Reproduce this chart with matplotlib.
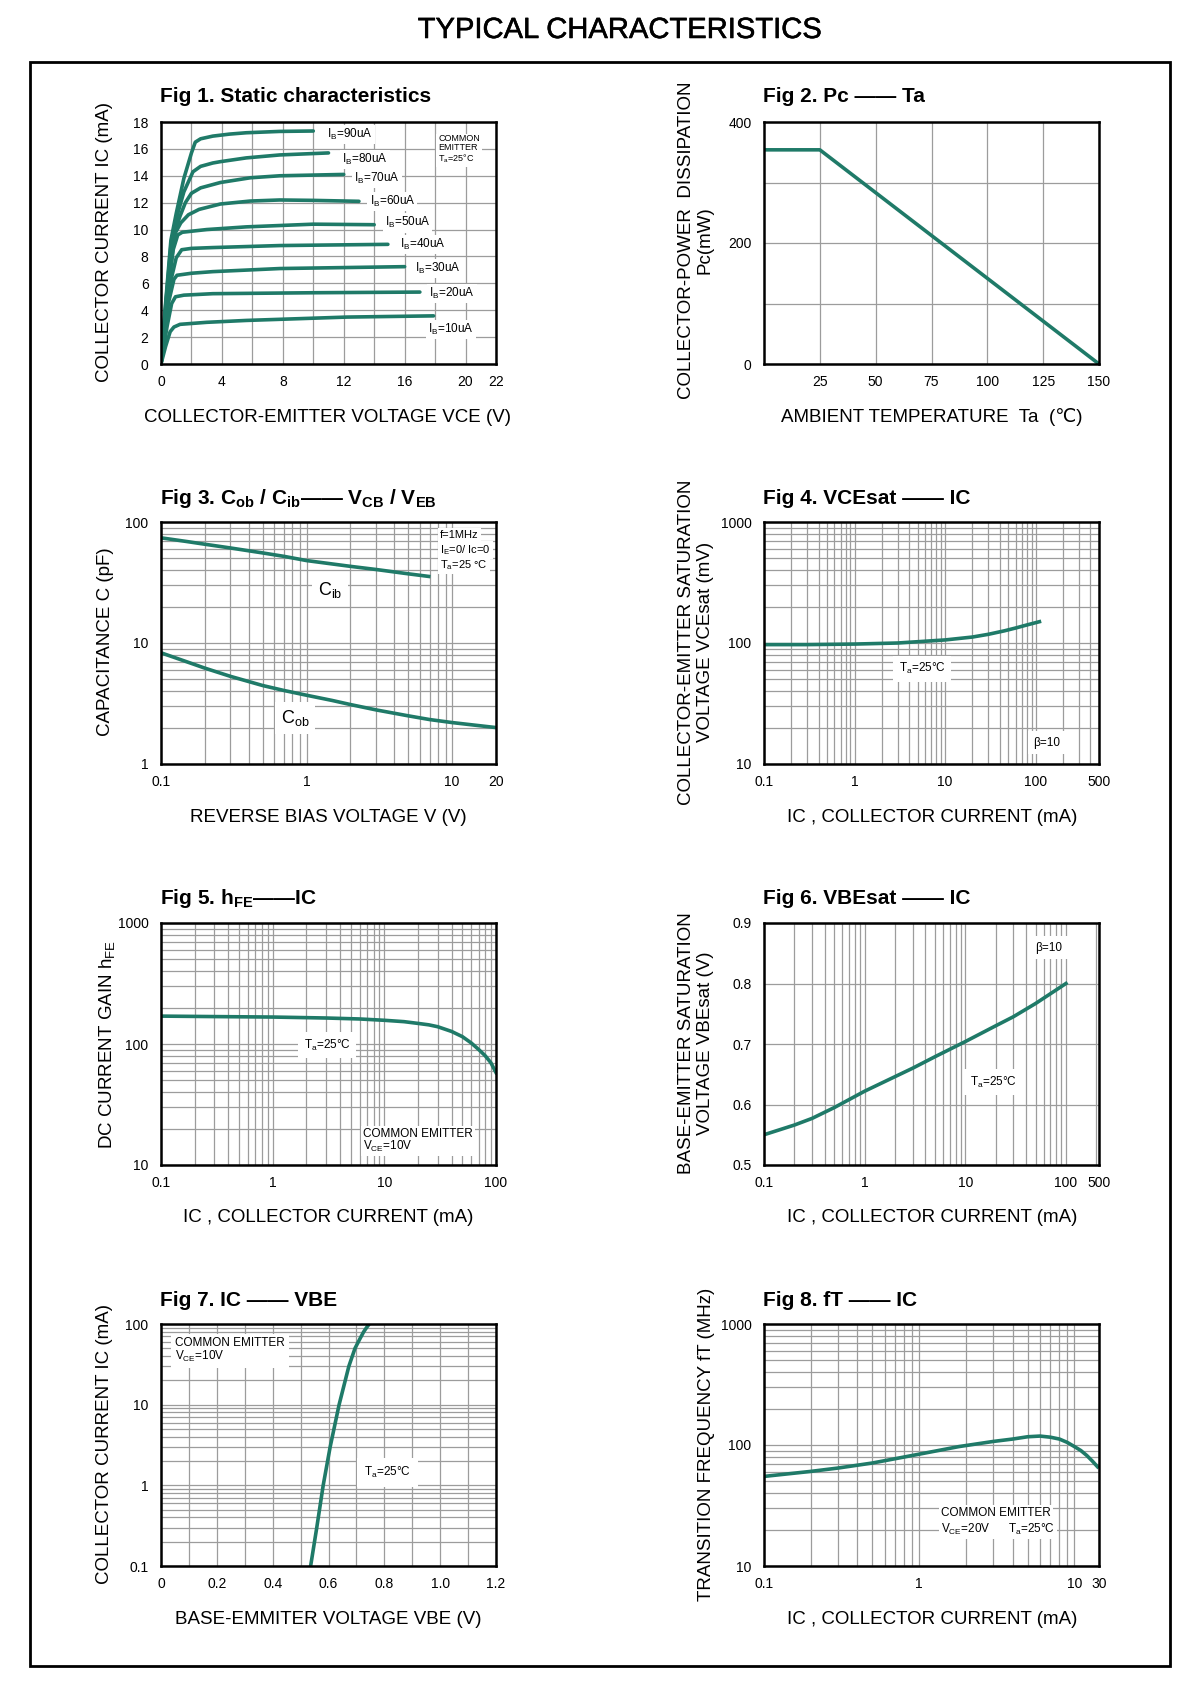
import numpy as np
import matplotlib
matplotlib.use('Agg')
import matplotlib.pyplot as plt
import matplotlib.patheffects as pe
from matplotlib.ticker import LogLocator, NullFormatter, FixedLocator
from matplotlib.patches import Rectangle

plt.rcParams['font.family'] = ['Liberation Sans', 'DejaVu Sans']
plt.rcParams['mathtext.fontset'] = 'custom'
plt.rcParams['mathtext.rm'] = 'Liberation Sans'
plt.rcParams['mathtext.it'] = 'Liberation Sans:italic'
plt.rcParams['mathtext.bf'] = 'Liberation Sans:bold'

CURVE = '#1f7a68'
GRID = '#9c9c9c'
W, H = 1200, 1688

# ---- Fig 1: static characteristics (IB = 10..90 uA)
ib_names = ['90', '80', '70', '60', '50', '40', '30', '20', '10']
vce_curves = [
    [0, 0.3, 0.65, 1.0, 1.5, 2.0, 2.25, 2.6, 3.4, 4.5, 5.6, 7.8, 10.0],
    [0, 0.3, 0.65, 1.0, 1.5, 2.1, 2.6, 3.4, 3.9, 5.6, 7.8, 11.0],
    [0, 0.4, 0.8, 1.25, 1.6, 2.0, 2.6, 3.9, 5.86, 7.8, 12.0],
    [0, 0.4, 0.92, 1.3, 1.8, 2.5, 3.9, 5.86, 7.8, 10.0, 13.0],
    [0, 0.4, 0.8, 1.1, 1.4, 3.0, 5.6, 10.0, 14.0],
    [0, 0.5, 1.0, 1.36, 2.0, 3.4, 7.8, 14.9],
    [0, 0.5, 0.85, 1.05, 2.0, 3.4, 7.8, 16.0],
    [0, 0.4, 0.7, 0.95, 1.5, 3.4, 10.0, 17.0],
    [0, 0.3, 0.6, 0.85, 1.25, 3.0, 5.6, 12.2, 17.9],
]
ic_curves = [
    [0, 4.5, 9.2, 11.2, 13.8, 15.7, 16.5, 16.75, 16.95, 17.1, 17.2, 17.3, 17.33],
    [0, 4.3, 8.8, 10.8, 12.8, 14.3, 14.7, 14.95, 15.05, 15.33, 15.55, 15.7],
    [0, 5.4, 9.5, 11.0, 12.0, 12.7, 13.1, 13.5, 13.85, 14.0, 14.1],
    [0, 5.2, 9.7, 10.5, 11.1, 11.5, 11.9, 12.12, 12.2, 12.17, 12.1],
    [0, 5.0, 8.5, 9.6, 9.8, 10.0, 10.2, 10.4, 10.36],
    [0, 5.5, 7.9, 8.5, 8.6, 8.66, 8.81, 8.9],
    [0, 4.6, 6.3, 6.6, 6.75, 6.87, 7.1, 7.24],
    [0, 2.8, 4.5, 5.0, 5.12, 5.23, 5.3, 5.35],
    [0, 1.3, 2.4, 2.75, 2.95, 3.1, 3.24, 3.49, 3.58],
]
ib_label_pos = [(10.9, 17.05), (11.9, 15.2), (12.7, 13.8), (13.7, 12.1), (14.7, 10.5),
                (15.7, 8.9), (16.7, 7.1), (17.6, 5.25), (17.55, 2.56)]

# ---- Fig 2: power derating
ta = [0, 25, 150]
pc = [354, 354, 0]

# ---- Fig 3: capacitances
v_cib = [0.1, 0.15, 0.2, 0.3, 0.5, 0.7, 1, 1.5, 2, 3, 5, 6.9]
c_ib = [74, 69, 65.5, 61, 55.5, 52, 48, 45, 43, 40.5, 37.3, 35.5]
v_cob = [0.1, 0.15, 0.2, 0.3, 0.5, 0.7, 1, 1.5, 2, 3, 5, 7, 10, 14, 20]
c_ob = [8.3, 7.0, 6.2, 5.3, 4.45, 4.05, 3.7, 3.35, 3.1, 2.8, 2.5, 2.33, 2.2, 2.1, 2.0]

# ---- Fig 4: VCEsat vs IC
ic4 = [0.1, 0.3, 1, 3, 10, 20, 30, 45, 60, 80, 110]
vcesat = [97, 97, 98, 100, 106, 112, 118, 126, 133, 141, 150]

# ---- Fig 5: hFE vs IC
ic5 = [0.1, 0.3, 1, 3, 6, 10, 15, 20, 25, 30, 40, 50, 60, 70, 80, 90, 100]
hfe = [170, 168.5, 167, 164, 161, 157, 153, 148, 144, 139, 127, 115, 102, 90, 80, 70, 58]

# ---- Fig 6: VBEsat vs IC
ic6 = [0.1, 0.2, 0.3, 0.5, 1, 2, 3, 5, 10, 20, 30, 50, 100]
vbesat = [0.550, 0.566, 0.577, 0.595, 0.622, 0.646, 0.660, 0.679, 0.704, 0.730, 0.745, 0.767, 0.800]

# ---- Fig 7: IC vs VBE
vbe7 = [0.536, 0.558, 0.581, 0.606, 0.638, 0.673, 0.695, 0.712, 0.726, 0.738, 0.746]
ic7 = [0.1, 0.3, 1, 3, 10, 30, 50, 65, 80, 92, 100]

# ---- Fig 8: fT vs IC
ic8 = [0.1, 0.2, 0.3, 0.5, 1, 1.8, 3, 4, 5, 6, 7, 8, 9, 10, 11, 12, 13, 14.1]
ft = [55, 60.5, 64.5, 71, 84, 97, 107, 112, 117, 118.5, 116, 112, 105, 97, 90, 82, 74, 66]


fig = plt.figure(figsize=(W / 100, H / 100), dpi=100)


def add_ax(x0, top, w=335, h=242):
    return fig.add_axes([x0 / W, 1 - (top + h) / H, w / W, h / H])


def ftext(x, y, s, **kw):
    return fig.text(x / W, 1 - y / H, s, **kw)


def style(ax, logx=False, logy=False):
    for s in ax.spines.values():
        s.set_linewidth(1.8)
        s.set_color('black')
    if logx:
        ax.set_xscale('log')
        ax.xaxis.set_minor_locator(LogLocator(base=10, subs=np.arange(2, 10)))
        ax.xaxis.set_minor_formatter(NullFormatter())
    if logy:
        ax.set_yscale('log')
        ax.yaxis.set_minor_locator(LogLocator(base=10, subs=np.arange(2, 10)))
        ax.yaxis.set_minor_formatter(NullFormatter())
    ax.tick_params(which='both', length=0, labelsize=10)
    ax.tick_params(axis='x', pad=8)
    ax.tick_params(axis='y', pad=9)
    ax.grid(True, which='both', color=GRID, lw=0.9)
    ax.set_axisbelow(True)


def box(pad=1.5):
    return dict(fc='white', ec='none', pad=pad)


LABEL_FS = 13.5
TITLE_FS = 15

ftext(619, 30, 'TYPICAL CHARACTERISTICS', ha='center', va='center', fontsize=21,
      path_effects=[pe.withStroke(linewidth=0.4, foreground='black')])
fig.patches.append(Rectangle((30 / W, 1 - 1666 / H), 1140 / W, 1604 / H,
                             transform=fig.transFigure, fill=False, lw=2, ec='black'))

LX, RX = 161, 764
TOPS = [122, 522, 923, 1324]

# Fig 1
ax = add_ax(LX, TOPS[0])
style(ax)
for v, i in zip(vce_curves, ic_curves):
    ax.plot(v, i, color=CURVE, lw=2.6, solid_capstyle='round')
for name, (px, py) in zip(ib_names, ib_label_pos):
    ax.text(px, py, r'I$_{\rm B}$=' + name + 'uA', fontsize=8.5, va='center', ha='left', bbox=box())
ax.text(0.827, 0.95, 'COMMON\nEMITTER\nT$_{\\rm a}$=25°C', transform=ax.transAxes,
        fontsize=6.5, va='top', ha='left', linespacing=1.0, bbox=box())
ax.set_xlim(0, 22)
ax.set_ylim(0, 18)
ax.set_xticks([0, 4, 8, 12, 16, 20, 22])
ax.xaxis.set_minor_locator(FixedLocator([2, 6, 10, 14, 18]))
ax.set_yticks(np.arange(0, 19, 2))
ftext(LX - 1, 97, 'Fig 1. Static characteristics', fontsize=TITLE_FS, fontweight='bold', va='center')
ftext(328, 417, 'COLLECTOR-EMITTER VOLTAGE VCE (V)', fontsize=LABEL_FS, ha='center', va='center')
ftext(105, 242, 'COLLECTOR CURRENT IC (mA)', fontsize=LABEL_FS, ha='center', va='center', rotation=90)

# Fig 2
ax = add_ax(RX, TOPS[0])
style(ax)
ax.plot(ta, pc, color=CURVE, lw=2.6)
ax.set_xlim(0, 150)
ax.set_ylim(0, 400)
ax.set_xticks([25, 50, 75, 100, 125, 150])
ax.set_yticks([0, 200, 400])
ax.yaxis.set_minor_locator(FixedLocator([100, 300]))
ftext(RX - 1, 97, 'Fig 2. Pc —— Ta', fontsize=TITLE_FS, fontweight='bold', va='center')
ftext(932, 417, 'AMBIENT TEMPERATURE  Ta  (℃)', fontsize=LABEL_FS, ha='center', va='center')
ftext(696, 240, 'COLLECTOR-POWER  DISSIPATION\nPc(mW)', fontsize=LABEL_FS, ha='center', va='center',
      rotation=90, multialignment='center', linespacing=1.15)

# Fig 3
ax = add_ax(LX, TOPS[1])
style(ax, logx=True, logy=True)
ax.plot(v_cib, c_ib, color=CURVE, lw=2.6)
ax.plot(v_cob, c_ob, color=CURVE, lw=2.6)
ax.set_xlim(0.1, 20)
ax.set_ylim(1, 100)
ax.set_xticks([0.1, 1, 10, 20])
ax.set_xticklabels(['0.1', '1', '10', '20'])
ax.set_yticks([1, 10, 100])
ax.set_yticklabels(['1', '10', '100'])
ax.text(0.504, 0.719, r'C$_{\rm ib}$', transform=ax.transAxes, fontsize=13, ha='center', va='center',
        bbox=box(4))
ax.text(0.40, 0.19, r'C$_{\rm ob}$', transform=ax.transAxes, fontsize=13, ha='center', va='center',
        bbox=box(4))
ax.text(0.833, 0.946, 'f=1MHz', transform=ax.transAxes, fontsize=8, va='center', bbox=box())
ax.text(0.833, 0.884, r'I$_{\rm E}$=0/ Ic=0', transform=ax.transAxes, fontsize=8, va='center', bbox=box())
ax.text(0.833, 0.822, 'T$_{\\rm a}$=25 °C', transform=ax.transAxes, fontsize=8, va='center', bbox=box())
ftext(LX - 1, 498, r'Fig 3. C$_{\mathbf{ob}}$ / C$_{\mathbf{ib}}$—— V$_{\mathbf{CB}}$ / V$_{\mathbf{EB}}$',
      fontsize=TITLE_FS, fontweight='bold', va='center')
ftext(328, 818, 'REVERSE BIAS VOLTAGE V (V)', fontsize=LABEL_FS, ha='center', va='center')
ftext(105, 642, 'CAPACITANCE C (pF)', fontsize=LABEL_FS, ha='center', va='center', rotation=90)

# Fig 4
ax = add_ax(RX, TOPS[1])
style(ax, logx=True, logy=True)
ax.plot(ic4, vcesat, color=CURVE, lw=2.6)
ax.set_xlim(0.1, 500)
ax.set_ylim(10, 1000)
ax.set_xticks([0.1, 1, 10, 100, 500])
ax.set_xticklabels(['0.1', '1', '10', '100', '500'])
ax.set_yticks([10, 100, 1000])
ax.set_yticklabels(['10', '100', '1000'])
ax.text(0.472, 0.393, 'T$_{\\rm a}$=25°C', transform=ax.transAxes, fontsize=8.5, ha='center', va='center',
        bbox=box(4))
ax.text(0.845, 0.087, 'β=10', transform=ax.transAxes, fontsize=8.5, ha='center', va='center',
        bbox=box(4))
ftext(RX - 1, 498, 'Fig 4. VCEsat —— IC', fontsize=TITLE_FS, fontweight='bold', va='center')
ftext(932, 818, 'IC , COLLECTOR CURRENT (mA)', fontsize=LABEL_FS, ha='center', va='center')
ftext(696, 642, 'COLLECTOR-EMITTER SATURATION\nVOLTAGE VCEsat (mV)', fontsize=LABEL_FS, ha='center',
      va='center', rotation=90, multialignment='center', linespacing=1.15)

# Fig 5
ax = add_ax(LX, TOPS[2])
style(ax, logx=True, logy=True)
ax.plot(ic5, hfe, color=CURVE, lw=2.6)
ax.set_xlim(0.1, 100)
ax.set_ylim(10, 1000)
ax.set_xticks([0.1, 1, 10, 100])
ax.set_xticklabels(['0.1', '1', '10', '100'])
ax.set_yticks([10, 100, 1000])
ax.set_yticklabels(['10', '100', '1000'])
ax.text(0.496, 0.496, 'T$_{\\rm a}$=25°C', transform=ax.transAxes, fontsize=8.5, ha='center', va='center',
        bbox=box(4))
ax.text(0.603, 0.10, 'COMMON EMITTER\nV$_{\\rm CE}$=10V', transform=ax.transAxes, fontsize=8.5,
        ha='left', va='center', linespacing=0.95, bbox=box())
ftext(LX - 1, 898, r'Fig 5. h$_{\mathbf{FE}}$——IC', fontsize=TITLE_FS, fontweight='bold', va='center')
ftext(328, 1218, 'IC , COLLECTOR CURRENT (mA)', fontsize=LABEL_FS, ha='center', va='center')
ftext(107, 1044, r'DC CURRENT GAIN h$_{\rm FE}$', fontsize=LABEL_FS, ha='center', va='center', rotation=90)

# Fig 6
x6max = 213
ax = add_ax(RX, TOPS[2])
style(ax, logx=True)
ax.plot(ic6, vbesat, color=CURVE, lw=2.6)
ax.set_xlim(0.1, x6max)
ax.set_ylim(0.5, 0.9)
ax.set_xticks([0.1, 1, 10, 100, x6max])
ax.set_xticklabels(['0.1', '1', '10', '100', '500'])
ax.set_yticks([0.5, 0.6, 0.7, 0.8, 0.9])
ax.grid(False, which='minor', axis='y')
ax.text(0.851, 0.897, 'β=10', transform=ax.transAxes, fontsize=8.5, ha='center', va='center',
        bbox=box(4))
ax.text(0.684, 0.343, 'T$_{\\rm a}$=25°C', transform=ax.transAxes, fontsize=8.5, ha='center', va='center',
        bbox=box(4))
ftext(RX - 1, 898, 'Fig 6. VBEsat —— IC', fontsize=TITLE_FS, fontweight='bold', va='center')
ftext(932, 1218, 'IC , COLLECTOR CURRENT (mA)', fontsize=LABEL_FS, ha='center', va='center')
ftext(696, 1043, 'BASE-EMITTER SATURATION\nVOLTAGE VBEsat (V)', fontsize=LABEL_FS, ha='center',
      va='center', rotation=90, multialignment='center', linespacing=1.15)

# Fig 7
ax = add_ax(LX, TOPS[3])
style(ax, logy=True)
ax.plot(vbe7, ic7, color=CURVE, lw=2.6)
ax.set_xlim(0, 1.2)
ax.set_ylim(0.1, 100)
ax.set_xticks([0, 0.2, 0.4, 0.6, 0.8, 1.0, 1.2])
ax.set_xticklabels(['0', '0.2', '0.4', '0.6', '0.8', '1.0', '1.2'])
ax.xaxis.set_minor_locator(FixedLocator([0.1, 0.3, 0.5, 0.7, 0.9, 1.1]))
ax.set_yticks([0.1, 1, 10, 100])
ax.set_yticklabels(['0.1', '1', '10', '100'])
ax.text(0.042, 0.89, 'COMMON EMITTER\nV$_{\\rm CE}$=10V', transform=ax.transAxes, fontsize=8.5,
        ha='left', va='center', linespacing=0.95, bbox=box(3))
ax.text(0.675, 0.388, 'T$_{\\rm a}$=25°C', transform=ax.transAxes, fontsize=8.5, ha='center', va='center',
        bbox=box(5))
ftext(LX - 1, 1300, 'Fig 7. IC —— VBE', fontsize=TITLE_FS, fontweight='bold', va='center')
ftext(328, 1620, 'BASE-EMMITER VOLTAGE VBE (V)', fontsize=LABEL_FS, ha='center', va='center')
ftext(105, 1444, 'COLLECTOR CURRENT IC (mA)', fontsize=LABEL_FS, ha='center', va='center', rotation=90)

# Fig 8
x8max = 14.4
ax = add_ax(RX, TOPS[3])
style(ax, logx=True, logy=True)
ax.plot(ic8, ft, color=CURVE, lw=2.6)
ax.set_xlim(0.1, x8max)
ax.set_ylim(10, 1000)
ax.set_xticks([0.1, 1, 10, x8max])
ax.set_xticklabels(['0.1', '1', '10', '30'])
ax.set_yticks([10, 100, 1000])
ax.set_yticklabels(['10', '100', '1000'])
ax.text(0.528, 0.219, 'COMMON EMITTER', transform=ax.transAxes, fontsize=8.5, ha='left', va='center',
        bbox=box())
ax.text(0.528, 0.153, 'V$_{\\rm CE}$=20V      T$_{\\rm a}$=25°C', transform=ax.transAxes, fontsize=8.5,
        ha='left', va='center', bbox=box())
ftext(RX - 1, 1300, 'Fig 8. fT —— IC', fontsize=TITLE_FS, fontweight='bold', va='center')
ftext(932, 1620, 'IC , COLLECTOR CURRENT (mA)', fontsize=LABEL_FS, ha='center', va='center')
ftext(707, 1444, 'TRANSITION FREQUENCY fT (MHz)', fontsize=LABEL_FS, ha='center', va='center', rotation=90)

fig.savefig('out.png', dpi=100)
